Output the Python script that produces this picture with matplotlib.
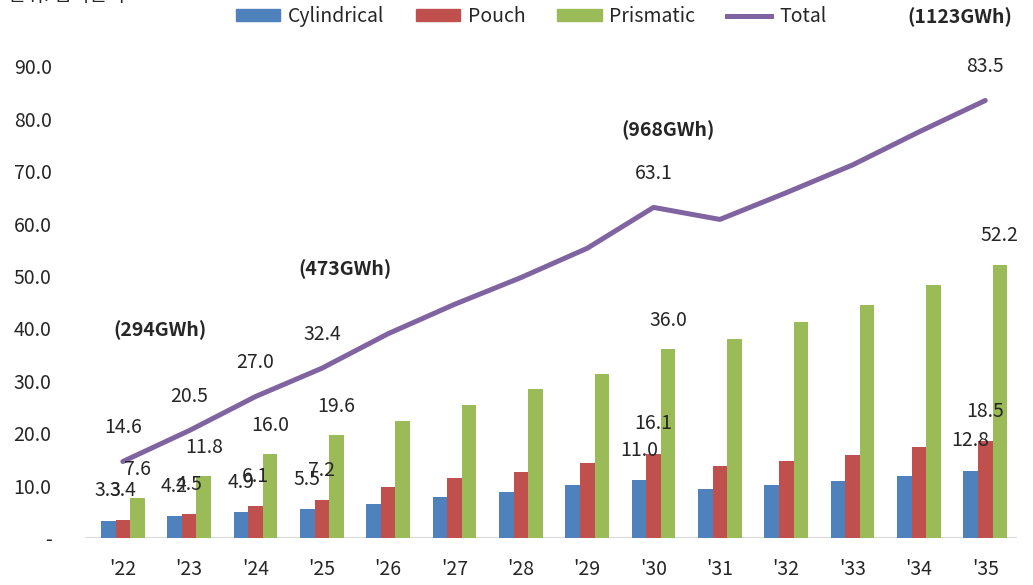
import numpy as np
import matplotlib
matplotlib.use('Agg')
import matplotlib.pyplot as plt
from matplotlib.lines import Line2D
from matplotlib.patches import Patch

plt.rcParams['font.family'] = ['Noto Sans CJK KR', 'DejaVu Sans']

years = ["'22", "'23", "'24", "'25", "'26", "'27", "'28", "'29",
         "'30", "'31", "'32", "'33", "'34", "'35"]
cylindrical = [3.3, 4.2, 4.9, 5.5, 6.5, 7.8, 8.8, 10.1, 11.0, 9.4, 10.1, 10.9, 11.8, 12.8]
pouch = [3.4, 4.5, 6.1, 7.2, 9.7, 11.4, 12.6, 14.3, 16.1, 13.7, 14.7, 15.8, 17.4, 18.5]
prismatic = [7.6, 11.8, 16.0, 19.6, 22.3, 25.4, 28.4, 31.3, 36.0, 38.0, 41.3, 44.5, 48.3, 52.2]
total = [14.6, 20.5, 27.0, 32.4, 39.0, 44.6, 49.7, 55.3, 63.1, 60.8, 65.9, 71.2, 77.5, 83.5]

labelled = [0, 1, 2, 3, 8, 13]
gwh_idx = [0, 3, 8, 13]
gwh_text = ['(294GWh)', '(473GWh)', '(968GWh)', '(1123GWh)']
gwh_offset = [(37, 131), (23, 99), (15, 77), (-25, 83)]

c_cyl = '#4F81BD'
c_pou = '#C0504D'
c_pri = '#9BBB59'
c_tot = '#8064A2'
txt = '#262626'

fig = plt.figure(figsize=(10.33, 5.85), dpi=100)
ax = fig.add_axes([0.0823, 0.0803, 0.9023, 0.8957])

x = np.arange(len(years))
w = 0.22
ax.bar(x - w, cylindrical, w, color=c_cyl, zorder=2)
ax.bar(x, pouch, w, color=c_pou, zorder=2)
ax.bar(x + w, prismatic, w, color=c_pri, zorder=2)
ax.plot(x, total, color=c_tot, lw=3.6, zorder=3, solid_capstyle='round')

ax.set_xlim(-0.57, 13.48)
ax.set_ylim(0, 100)
for s in ax.spines.values():
    s.set_visible(False)
ax.axhline(0, color='#D9D9D9', lw=1.5, zorder=1)

ax.set_yticks(np.arange(0, 100, 10))
ax.set_yticklabels(['-'] + ['%.1f' % v for v in np.arange(10, 100, 10)])
ax.set_xticks(x)
ax.set_xticklabels(years)
ax.tick_params(axis='y', length=0, pad=24, labelsize=14, labelcolor=txt)
ax.tick_params(axis='x', length=0, pad=15, labelsize=14, labelcolor=txt)

def lab(xv, yv, s, dx=0, dy=30, bold=False):
    ax.annotate(s, (xv, yv), xytext=(dx, dy), textcoords='offset pixels',
                ha='center', va='center', fontsize=14, color=txt,
                fontweight='bold' if bold else 'normal', annotation_clip=False, zorder=5)

for i in labelled:
    lab(x[i] - w, cylindrical[i], '%.1f' % cylindrical[i], dy=30)
    lab(x[i], pouch[i], '%.1f' % pouch[i], dy=30)
    lab(x[i] + w, prismatic[i], '%.1f' % prismatic[i], dy=29)
    lab(x[i], total[i], '%.1f' % total[i], dy=34)

for i, s, (dx, dy) in zip(gwh_idx, gwh_text, gwh_offset):
    lab(x[i], total[i], s, dx=dx, dy=dy, bold=True)

handles = [Patch(color=c_cyl, label='Cylindrical'),
           Patch(color=c_pou, label='Pouch'),
           Patch(color=c_pri, label='Prismatic'),
           Line2D([0], [0], color=c_tot, lw=3.6, label='Total')]
leg = fig.legend(handles=handles, loc='center', bbox_to_anchor=(0.514, 0.972), ncol=4,
                 frameon=False, fontsize=14, handlelength=2.3, handleheight=0.55,
                 handletextpad=0.4, columnspacing=1.6, labelcolor=txt)

# unit text at the very top, mostly cut off as in the source image
fig.text(0.008, 1.008, '단위: 십억달러', fontsize=14, color=txt, va='center', ha='left')

fig.savefig('out.png', dpi=100)
